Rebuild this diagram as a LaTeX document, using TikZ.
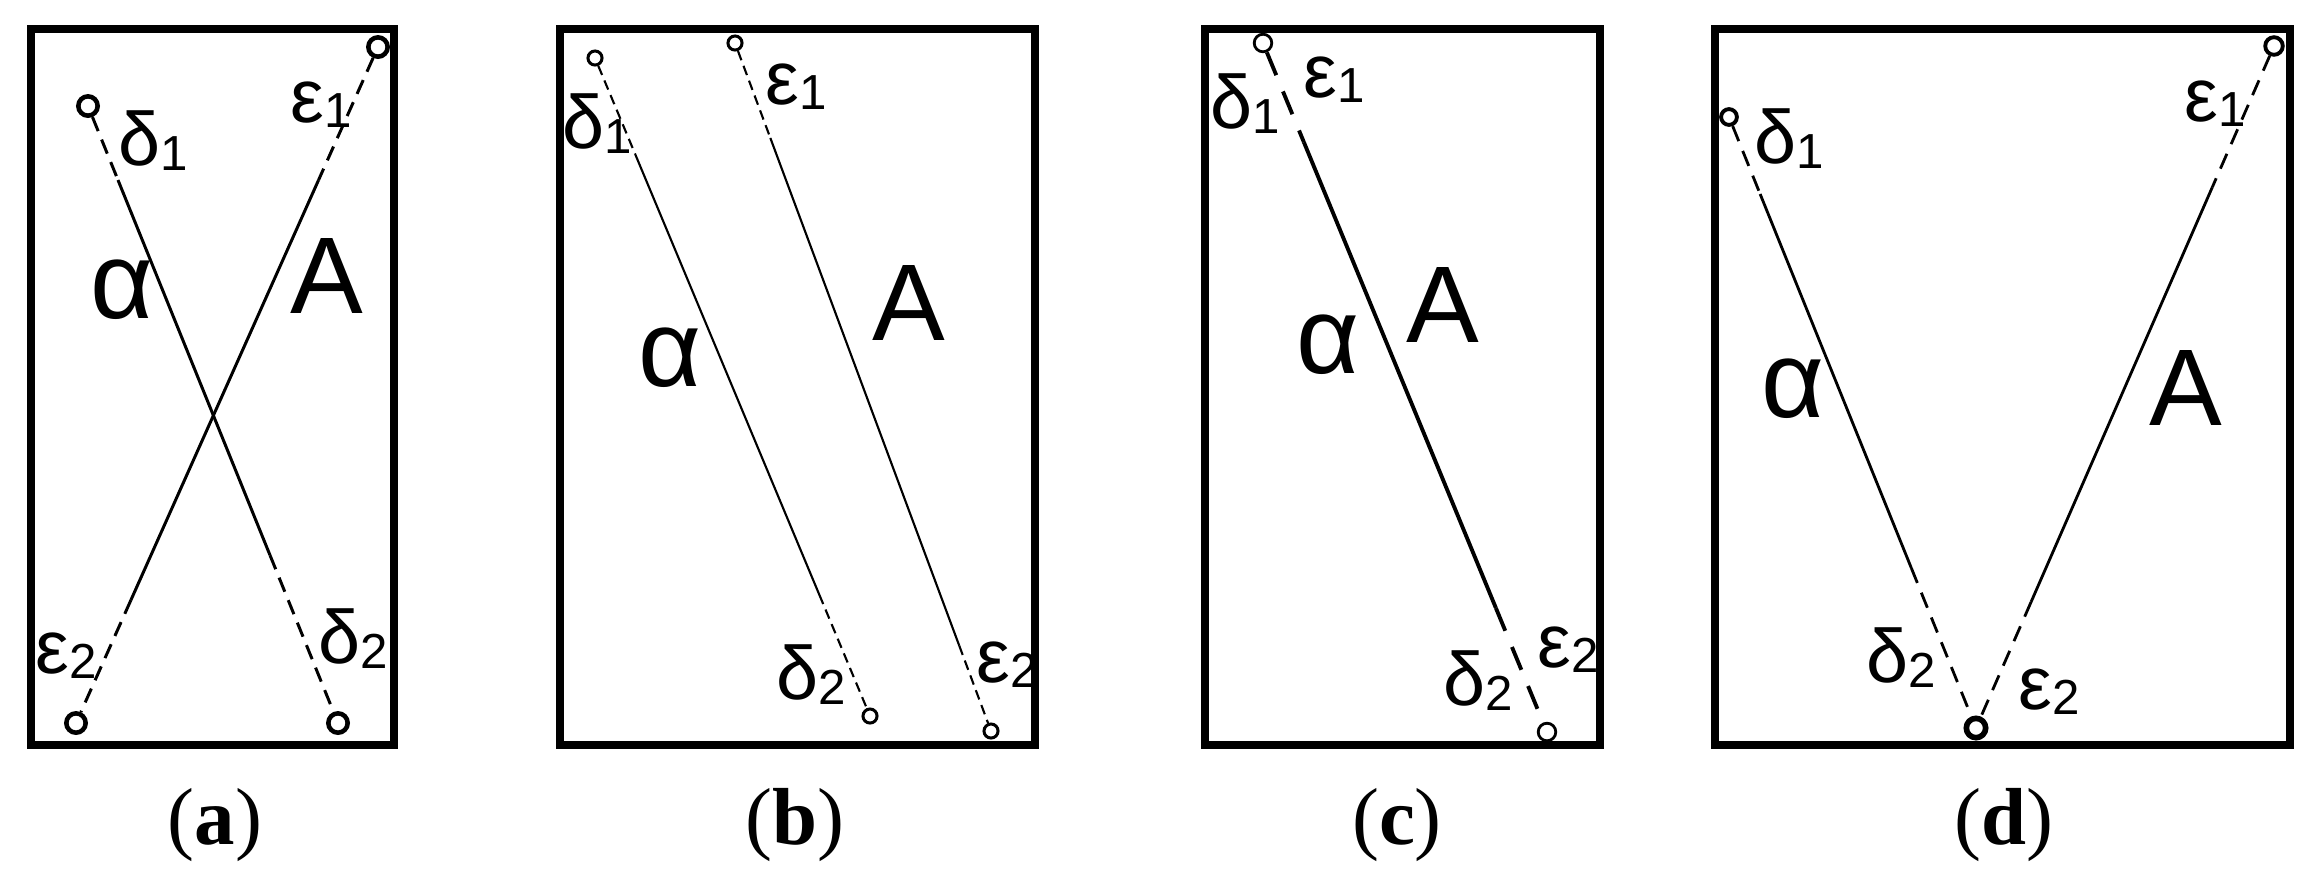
\documentclass[tikz,border=0pt]{standalone}
\usepackage{fontspec}
\setmainfont{Liberation Serif}
\newfontfamily\labfont{Liberation Sans}
\usetikzlibrary{calc}
\newcommand\sub[1]{\raisebox{-1.6pt}{\fontsize{14}{14}\selectfont #1}}
\tikzset{
  frame/.style={draw, line width=2.3pt},
  lbl/.style={inner sep=0pt, anchor=base west, font=\labfont\fontsize{21.5}{21.5}\selectfont},
  big/.style={inner sep=0pt, anchor=base west, font=\labfont\fontsize{31}{31}\selectfont},
  captxt/.style={inner sep=0pt, font=\fontsize{23}{23}\selectfont},
  endpt/.style={circle, draw, fill=white, inner sep=0pt, minimum size=#1},
  solA/.style={line width=0.85pt},
  dashA/.style={line width=0.85pt, dash pattern=on 4.3pt off 2.6pt},
  solB/.style={line width=0.6pt},
  dashB/.style={line width=0.6pt, dash pattern=on 2.8pt off 1.7pt},
  solC/.style={line width=1.1pt},
  dashC/.style={line width=1.1pt, dash pattern=on 7pt off 5pt},
  solD/.style={line width=0.8pt},
  dashD/.style={line width=0.8pt, dash pattern=on 4.6pt off 3pt},
}
\begin{document}
\begin{tikzpicture}[x=0.01cm,y=-0.01cm]
\fill[white] (0,0) rectangle (2323,884);
\useasboundingbox (0,0) rectangle (2323,884);

% ---------------- panel (a)
\draw[frame] (31,29) rectangle (394,745);
\node[endpt=5.5pt, line width=1.3pt] (a-d1) at (88,106) {};
\node[endpt=5.5pt, line width=1.3pt] (a-d2) at (338,723) {};
\node[endpt=5.5pt, line width=1.3pt] (a-e1) at (378,47) {};
\node[endpt=5.5pt, line width=1.3pt] (a-e2) at (76,723) {};
\coordinate (a-ds) at ($(a-d1)!0.12!(a-d2)$);
\coordinate (a-de) at ($(a-d1)!0.728!(a-d2)$);
\coordinate (a-es) at ($(a-e1)!0.197!(a-e2)$);
\coordinate (a-ee) at ($(a-e1)!0.818!(a-e2)$);
\draw[dashA] (a-d1) -- (a-ds);
\draw[solA] (a-ds) -- (a-de);
\draw[dashA] (a-de) -- (a-d2);
\draw[dashA] (a-e1) -- (a-es);
\draw[solA] (a-es) -- (a-ee);
\draw[dashA] (a-ee) -- (a-e2);
\node[lbl] (a-ld1) at (118,165) {δ\sub{1}};
\node[lbl] (a-le1) at (290,122) {ε\sub{1}};
\node[big] (a-lal) at (90,318) {α};
\node[big] (a-lA) at (290,313) {A};
\node[lbl] (a-le2) at (35,673) {ε\sub{2}};
\node[lbl] (a-ld2) at (318,663) {δ\sub{2}};
\node[captxt] (a-cap) at (215,825) {(\textbf{a})};

% ---------------- panel (b)
\draw[frame] (560,29) rectangle (1035,745);
\node[endpt=4pt, line width=0.85pt] (b-d1) at (595,58) {};
\node[endpt=4pt, line width=0.85pt] (b-d2) at (870,716) {};
\node[endpt=4pt, line width=0.85pt] (b-e1) at (735,43) {};
\node[endpt=4pt, line width=0.85pt] (b-e2) at (991,731) {};
\coordinate (b-ds) at ($(b-d1)!0.146!(b-d2)$);
\coordinate (b-de) at ($(b-d1)!0.816!(b-d2)$);
\coordinate (b-es) at ($(b-e1)!0.138!(b-e2)$);
\coordinate (b-ee) at ($(b-e1)!0.876!(b-e2)$);
\draw[dashB] (b-d1) -- (b-ds);
\draw[solB] (b-ds) -- (b-de);
\draw[dashB] (b-de) -- (b-d2);
\draw[dashB] (b-e1) -- (b-es);
\draw[solB] (b-es) -- (b-ee);
\draw[dashB] (b-ee) -- (b-e2);
\node[lbl] (b-ld1) at (562,148) {δ\sub{1}};
\node[lbl] (b-le1) at (765,104) {ε\sub{1}};
\node[big] (b-lal) at (638,386) {α};
\node[big] (b-lA) at (872,340) {A};
\node[lbl] (b-ld2) at (776,699) {δ\sub{2}};
\node[lbl] (b-le2) at (976,682) {ε\sub{2}};
\node[captxt] (b-cap) at (795,825) {(\textbf{b})};

% ---------------- panel (c)
\draw[frame] (1205,29) rectangle (1600,745);
\node[endpt=5pt, line width=0.8pt] (c-t) at (1263,43) {};
\node[endpt=5pt, line width=0.8pt] (c-b) at (1547,732) {};
\coordinate (c-s) at ($(c-t)!0.144!(c-b)$);
\coordinate (c-e) at ($(c-t)!0.82!(c-b)$);
\draw[dashC] (c-t) -- (c-s);
\draw[solC] (c-s) -- (c-e);
\draw[dashC] (c-e) -- (c-b);
\node[lbl] (c-ld1) at (1210,128) {δ\sub{1}};
\node[lbl] (c-le1) at (1303,97) {ε\sub{1}};
\node[big] (c-lal) at (1296,373) {α};
\node[big] (c-lA) at (1406,342) {A};
\node[lbl] (c-ld2) at (1443,705) {δ\sub{2}};
\node[lbl] (c-le2) at (1537,667) {ε\sub{2}};
\node[captxt] (c-cap) at (1397,825) {(\textbf{c})};

% ---------------- panel (d)
\draw[frame] (1715,29) rectangle (2290,745);
\node[endpt=4.5pt, line width=1.1pt] (d-d1) at (1729,117) {};
\node[endpt=5pt, line width=1.1pt] (d-e1) at (2274,46) {};
\node[endpt=5.5pt, line width=1.6pt] (d-b) at (1976,728) {};
\coordinate (d-ds) at ($(d-d1)!0.126!(d-b)$);
\coordinate (d-de) at ($(d-d1)!0.738!(d-b)$);
\coordinate (d-es) at ($(d-e1)!0.207!(d-b)$);
\coordinate (d-ee) at ($(d-e1)!0.815!(d-b)$);
\draw[dashD] (d-d1) -- (d-ds);
\draw[solD] (d-ds) -- (d-de);
\draw[dashD] (d-de) -- (d-b);
\draw[dashD] (d-e1) -- (d-es);
\draw[solD] (d-es) -- (d-ee);
\draw[dashD] (d-ee) -- (d-b);
\node[lbl] (d-ld1) at (1754,163) {δ\sub{1}};
\node[lbl] (d-le1) at (2184,121) {ε\sub{1}};
\node[big] (d-lal) at (1761,417) {α};
\node[big] (d-lA) at (2149,425) {A};
\node[lbl] (d-ld2) at (1866,682) {δ\sub{2}};
\node[lbl] (d-le2) at (2018,709) {ε\sub{2}};
\node[captxt] (d-cap) at (2004,825) {(\textbf{d})};
\end{tikzpicture}
\end{document}
